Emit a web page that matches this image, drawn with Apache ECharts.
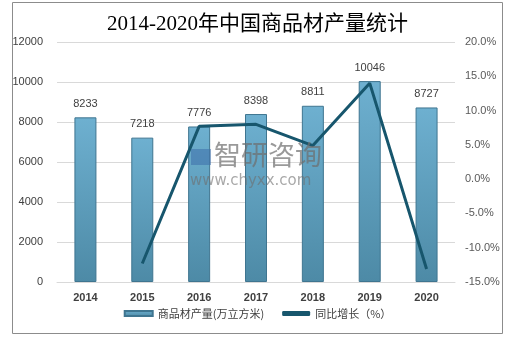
<!DOCTYPE html>
<html><head><meta charset="utf-8">
<script src="https://cdn.jsdelivr.net/npm/echarts@6/dist/echarts.min.js"></script>
<style>html,body{margin:0;padding:0;background:#fff}#c{width:515px;height:339px}</style>
</head><body><div id="c"></div>
<script>
var categories = ['2014','2015','2016','2017','2018','2019','2020'];
var production = [8233, 7218, 7776, 8398, 8811, 10046, 8727];
var growth = [null, -12.3, 7.7, 8.0, 4.9, 14.0, -13.1];

var chart = echarts.init(document.getElementById('c'));
chart.setOption({
  animation: false,
  title: {
    text: '2014-2020年中国商品材产量统计',
    left: 'center', top: 9,
    textStyle: {fontFamily: '"Liberation Serif","Noto Sans CJK SC"', fontSize: 21, fontWeight: 'normal', color: '#000'}
  },
  graphic: [
    {type: 'rect', shape: {x: 12.5, y: 2.5, width: 490, height: 331}, style: {fill: 'none', stroke: '#8c8c8c', lineWidth: 1}, silent: true},
    {type: 'rect', z: 100, shape: {x: 191, y: 149, width: 20, height: 16}, style: {fill: 'rgba(60,110,170,0.55)'}},
    {type: 'text', left: 214, top: 141, z: 100, style: {text: '智研咨询', fontSize: 27, fontFamily: 'Noto Sans CJK SC', fill: 'rgba(110,110,110,0.7)'}},
    {type: 'text', left: 190, top: 174, z: 100, style: {text: 'www.chyxx.com', fontSize: 15, fontFamily: 'DejaVu Sans', fill: 'rgba(110,110,110,0.6)'}}
  ],
  legend: {
    bottom: 15, left: 'center', itemGap: 18, itemWidth: 28, itemHeight: 5,
    textStyle: {fontFamily: '"Noto Sans CJK SC"', fontSize: 11, color: '#404040'},
    data: [
      {name: '商品材产量(万立方米)', icon: 'rect'},
      {name: '同比增长（%）', icon: 'roundRect'}
    ]
  },
  grid: {left: 57, right: 60, top: 42, bottom: 57},
  xAxis: {
    type: 'category', data: categories,
    axisLine: {lineStyle: {color: '#d9d9d9'}},
    axisTick: {show: false},
    axisLabel: {color: '#404040', fontWeight: 'bold', fontSize: 11, fontFamily: 'Liberation Sans', margin: 10}
  },
  yAxis: [
    {type: 'value', min: 0, max: 12000, interval: 2000,
     axisLine: {show: false}, axisTick: {show: false},
     axisLabel: {color: '#404040', fontSize: 11, fontFamily: 'Liberation Sans', margin: 14, formatter: function(v){return String(v);}},
     splitLine: {lineStyle: {color: '#d9d9d9'}}},
    {type: 'value', min: -15, max: 20, interval: 5,
     axisLine: {show: false}, axisTick: {show: false},
     axisLabel: {color: '#595959', fontSize: 11, fontFamily: 'Liberation Sans', margin: 10, formatter: function(v){return v.toFixed(1)+'%';}},
     splitLine: {show: false}}
  ],
  series: [
    {name: '商品材产量(万立方米)', type: 'bar', data: production, barWidth: 22,
     itemStyle: {color: new echarts.graphic.LinearGradient(0,0,0,1,[{offset:0,color:'#6eb0d0'},{offset:1,color:'#4d8aa6'}]), borderColor: '#3f7590', borderWidth: 1},
     label: {show: true, position: 'top', color: '#404040', fontSize: 11, fontFamily: 'Liberation Sans', distance: 8}},
    {name: '同比增长（%）', type: 'line', yAxisIndex: 1, data: growth, symbol: 'none',
     lineStyle: {color: '#17566d', width: 3}, itemStyle: {color: '#17566d'}}
  ]
});
</script></body></html>
